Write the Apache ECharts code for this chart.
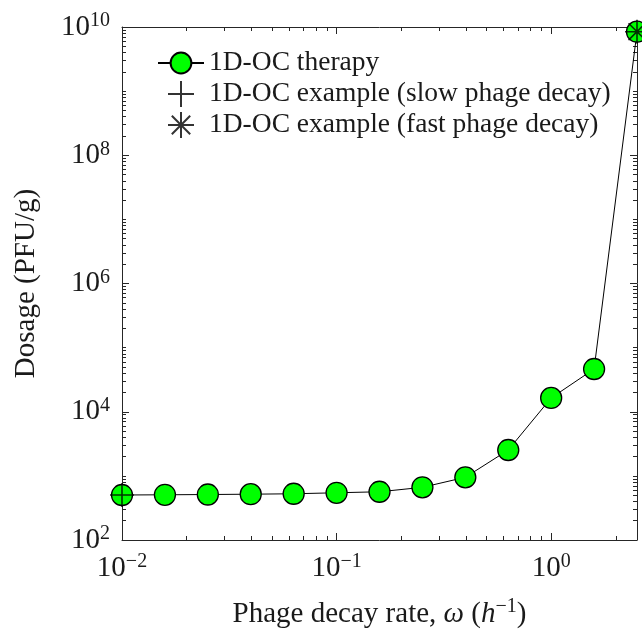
<!DOCTYPE html>
<html>
<head>
<meta charset="utf-8">
<script src="https://cdn.jsdelivr.net/npm/echarts@6/dist/echarts.min.js"></script>
<style>html,body{margin:0;padding:0;background:#fff}#c{width:642px;height:629px}</style>
</head>
<body>
<div id="c"></div>
<script>
// ---- data ----
const omegaValues = [0.01, 0.01585, 0.02512, 0.03981, 0.0631, 0.1, 0.1585, 0.2512, 0.3981, 0.631, 1, 1.585, 2.512];
const therapyDose = [503, 507, 512, 518, 526, 545, 565, 663, 950, 2530, 16400, 46400, 8.45e9];
const slowExample = [[0.01, 503]];
const fastExample = [[2.512, 8.45e9]];
const xMajorTicks = [0.01, 0.1, 1];
const yMajorTicks = [1e2, 1e4, 1e6, 1e8, 1e10];
const seriesNames = ['1D-OC therapy', '1D-OC example (slow phage decay)', '1D-OC example (fast phage decay)'];

// minor tick positions (axis decoration)
const xMinorTicks = [];
for (let d = -2; d <= 0; d++) for (let m = 2; m <= 9; m++) { const v = m * Math.pow(10, d); if (v <= 2.512) xMinorTicks.push(v); }
const yMinorTicks = [];
for (let d = 2; d <= 9; d++) { if (d % 2 === 1) yMinorTicks.push(Math.pow(10, d)); for (let m = 2; m <= 9; m++) yMinorTicks.push(m * Math.pow(10, d)); }

const FONT = 'Liberation Serif';
const TXT = '#1a1a1a';
const AX = '#262626';
const xMin = 0.01, xMax = 2.512, yMin = 1e2, yMax = 1e10;

function supFmt(v) {
  const e = Math.round(Math.log10(v));
  return '10{sup|' + (e < 0 ? '\u2212' + (-e) : e) + '}';
}
const richLabel = {
  sup: { fontSize: 20, fontFamily: FONT, color: TXT, verticalAlign: 'top', lineHeight: 20 }
};
function xAx(pos, ticks, len, main) {
  return {
    type: 'log', logBase: 10, min: xMin, max: xMax, position: pos, offset: 0,
    axisLine: { show: main, onZero: false, lineStyle: { color: AX, width: 1 } },
    axisTick: { show: true, inside: true, length: len, customValues: ticks, lineStyle: { color: AX, width: 1 } },
    axisLabel: main && pos === 'bottom' ? {
      show: true, customValues: xMajorTicks, formatter: supFmt, margin: 12,
      fontSize: 29, fontFamily: FONT, color: TXT, lineHeight: 32, rich: richLabel
    } : { show: false },
    splitLine: { show: false }, minorTick: { show: false },
    name: main && pos === 'bottom' ? 'Phage decay rate, {i|\u03c9} ({i|h}{s|\u22121})' : '',
    nameLocation: 'middle', nameGap: 57,
    nameTextStyle: {
      fontSize: 29, fontFamily: FONT, color: TXT, lineHeight: 34,
      rich: {
        i: { fontSize: 29, fontFamily: FONT, fontStyle: 'italic', color: TXT },
        s: { fontSize: 20, fontFamily: FONT, color: TXT, verticalAlign: 'top', lineHeight: 20 }
      }
    }
  };
}
function yAx(pos, ticks, len, main) {
  return {
    type: 'log', logBase: 10, min: yMin, max: yMax, position: pos, offset: 0,
    axisLine: { show: main, onZero: false, lineStyle: { color: AX, width: 1 } },
    axisTick: { show: true, inside: true, length: len, customValues: ticks, lineStyle: { color: AX, width: 1 } },
    axisLabel: main && pos === 'left' ? {
      show: true, customValues: yMajorTicks, formatter: supFmt, margin: 12,
      fontSize: 29, fontFamily: FONT, color: TXT, lineHeight: 32, rich: richLabel
    } : { show: false },
    splitLine: { show: false }, minorTick: { show: false },
    name: main && pos === 'left' ? 'Dosage (PFU/g)' : '',
    nameLocation: 'middle', nameGap: 81, nameRotate: 90,
    nameTextStyle: { fontSize: 29, fontFamily: FONT, color: TXT }
  };
}

const chart = echarts.init(document.getElementById('c'), null, { renderer: 'canvas' });
chart.setOption({
  backgroundColor: '#ffffff',
  animation: false,
  grid: { left: 122, right: 5, top: 27, bottom: 89, containLabel: false, outerBoundsMode: 'none' },
  xAxis: [
    xAx('bottom', xMajorTicks, 7, true),
    xAx('bottom', xMinorTicks, 4, false),
    xAx('top', xMajorTicks, 7, true),
    xAx('top', xMinorTicks, 4, false)
  ],
  yAxis: [
    yAx('left', yMajorTicks, 7, true),
    yAx('left', yMinorTicks, 4, false),
    yAx('right', yMajorTicks, 7, true),
    yAx('right', yMinorTicks, 4, false)
  ],
  legend: {
    orient: 'vertical', left: 152, top: 44,
    itemWidth: 46, itemHeight: 26, itemGap: 3,
    textStyle: { fontSize: 27.5, fontFamily: FONT, color: TXT, lineHeight: 26 },
    data: seriesNames
  },
  series: [
    {
      name: seriesNames[0], type: 'line', xAxisIndex: 0, yAxisIndex: 0,
      data: omegaValues.map((x, i) => [x, therapyDose[i]]),
      symbol: 'circle', symbolSize: 21, showAllSymbol: true, clip: false,
      lineStyle: { color: '#000', width: 1 },
      itemStyle: { color: '#00ff00', borderColor: '#000', borderWidth: 1.3 },
      z: 2
    },
    {
      name: seriesNames[1], type: 'scatter', xAxisIndex: 0, yAxisIndex: 0,
      data: slowExample, clip: false,
      symbol: 'path://M0,-1L0,1M-1,0L1,0', symbolSize: 24, symbolKeepAspect: true,
      itemStyle: { color: '#000', borderColor: '#000', borderWidth: 1.6 },
      z: 4
    },
    {
      name: seriesNames[2], type: 'scatter', xAxisIndex: 0, yAxisIndex: 0,
      data: fastExample, clip: false,
      symbol: 'path://M0,-1L0,1M-1,0L1,0M-0.707,-0.707L0.707,0.707M-0.707,0.707L0.707,-0.707', symbolSize: 24, symbolKeepAspect: true,
      itemStyle: { color: '#000', borderColor: '#000', borderWidth: 1.6 },
      z: 4
    }
  ]
});
</script>
</body>
</html>
